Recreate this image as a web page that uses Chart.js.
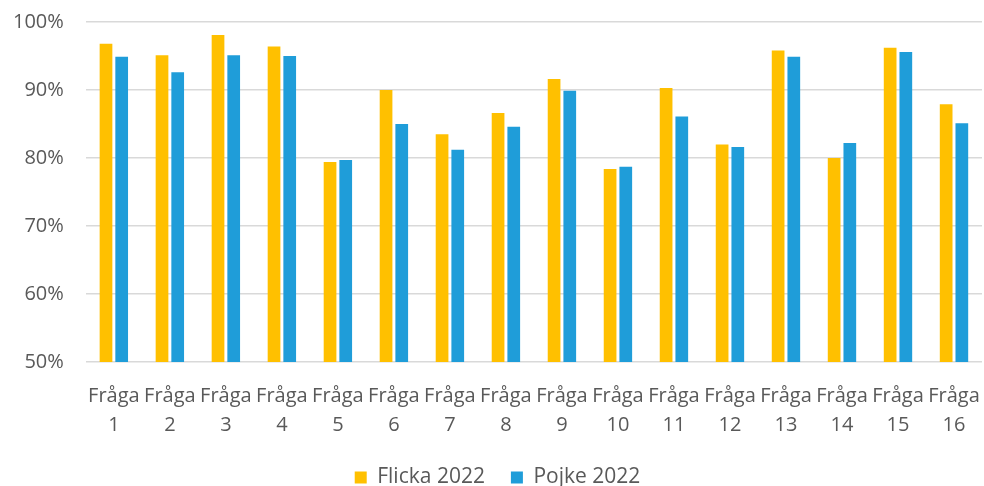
<!DOCTYPE html>
<html lang="sv">
<head>
  <meta charset="UTF-8" />
  <title>Fråga 1-16, Flicka/Pojke 2022</title>
  <script src="https://cdn.jsdelivr.net/npm/chart.js"></script>
  <style>
    body {
      margin: 0;
      padding: 0;
      background: white;
    }

    .chart-container {
      width: 984px;
      height: 486px;
    }
  </style>
</head>
<body>

  <div class="chart-container"><canvas id="barChart"></canvas></div>

  <script>
    const labels = [];
    for (let i = 1; i <= 16; i++) labels.push(['Fråga', String(i)]);

    const flicka = [96.8, 95.1, 98.1, 96.4, 79.4, 90.0, 83.5, 86.6, 91.6, 78.4, 90.3, 82.0, 95.8, 80.0, 96.2, 87.9];
    const pojke = [94.9, 92.6, 95.1, 95.0, 79.7, 85.0, 81.2, 84.6, 89.9, 78.7, 86.1, 81.6, 94.9, 82.2, 95.6, 85.1];

    const textColor = '#595959';
    const fontFamily = '"Open Sans", Lato, sans-serif';

    new Chart(document.getElementById('barChart').getContext('2d'), {
      type: 'bar',
      data: {
        labels: labels,
        datasets: [
          {
            label: 'Flicka 2022',
            data: flicka,
            backgroundColor: '#FFC000',
            barPercentage: 0.81,
            categoryPercentage: 0.56
          },
          {
            label: 'Pojke 2022',
            data: pojke,
            backgroundColor: '#1F9DD9',
            barPercentage: 0.81,
            categoryPercentage: 0.56
          }
        ]
      },
      options: {
        responsive: true,
        maintainAspectRatio: false,
        animation: false,
        layout: { padding: { left: 13, right: 2, top: 0, bottom: -12 } },
        scales: {
          x: {
            grid: { display: false },
            border: { display: false },
            ticks: {
              color: textColor,
              autoSkip: false,
              maxRotation: 0,
              padding: 12,
              font: { family: fontFamily, size: 20, lineHeight: 1.45 }
            },
            // labels fit inside their category, no extra side padding
            afterFit: s => {
              s.paddingLeft = 0;
              s.paddingRight = 0;
              s.height -= 11;
            }
          },
          y: {
            min: 50,
            max: 100,
            border: { display: false },
            grid: { color: '#D9D9D9', lineWidth: 1.5, drawTicks: false },
            ticks: {
              stepSize: 10,
              color: textColor,
              padding: 22,
              font: { family: fontFamily, size: 20 },
              callback: v => v + '%'
            },
            afterFit: s => {
              s.paddingTop = 22;
              s.paddingBottom = 12;
              s.width -= s.options.ticks.padding;
            }
          }
        },
        plugins: {
          legend: {
            position: 'bottom',
            labels: {
              color: textColor,
              boxWidth: 12,
              boxHeight: 12,
              padding: 26,
              font: { family: fontFamily, size: 21 }
            }
          },
          tooltip: { enabled: false }
        }
      }
    });
  </script>

</body>
</html>
